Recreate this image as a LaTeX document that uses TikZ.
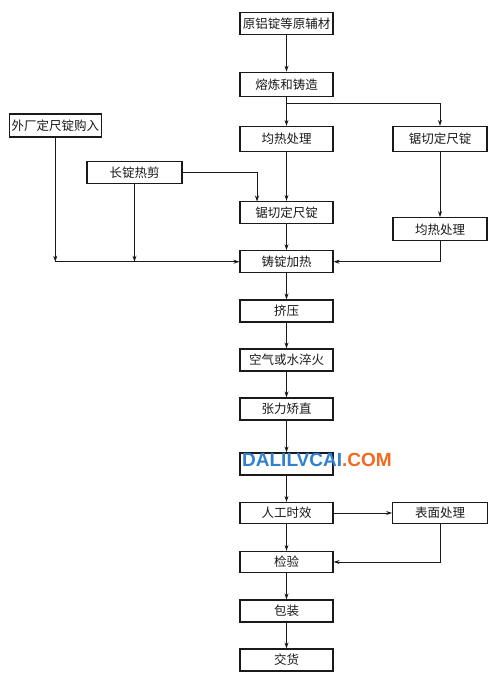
\documentclass[tikz,border=0pt]{standalone}
\usepackage{fontspec}
\setmainfont{Liberation Sans}
\newfontfamily\cjk{Noto Sans CJK SC}
\usetikzlibrary{arrows.meta}
\definecolor{wmblue}{HTML}{2F80D0}
\definecolor{wmorange}{HTML}{F26A21}
\definecolor{ink}{HTML}{1A1A1A}
\begin{document}
\begin{tikzpicture}[x=1pt,y=-1pt,
  box/.style={draw=ink, line width=1.2pt, minimum height=22pt, minimum width=93pt, inner sep=0pt,
    text=ink, font=\cjk\fontsize{12.5}{14}\selectfont},
  flow/.style={draw=ink, line width=0.75pt, -{Stealth[length=6pt,width=4pt]}}]
\useasboundingbox (0,0) rectangle (500,679);
\fill[white] (0,0) rectangle (500,679);
% main column
\node[box] (a) at (286.5,23.3) {原铝锭等原辅材};
\node[box, minimum height=24pt] (b) at (286.5,84.3) {熔炼和铸造};
\node[box, minimum height=25pt] (c) at (286.5,139) {均热处理};
\node[box] (g) at (286.5,212.5) {锯切定尺锭};
\node[box] (i) at (286.5,261.7) {铸锭加热};
\node[box] (j) at (286.5,311) {挤压};
\node[box] (k) at (286.5,360) {空气或水淬火};
\node[box] (l) at (286.5,409) {张力矫直};
\node[box] (m) at (286.5,464) {};
\node[box, minimum height=21pt] (n) at (286.5,513) {人工时效};
\node[box, minimum height=21pt] (p) at (286.5,562) {检验};
\node[box] (q) at (286.5,611) {包装};
\node[box] (r) at (286.5,660) {交货};
% right column
\node[box, minimum width=94pt, minimum height=25pt] (d) at (440,139) {锯切定尺锭};
\node[box, minimum width=94pt, minimum height=23pt] (h) at (440,229.3) {均热处理};
\node[box, minimum width=94.5pt, minimum height=21pt] (o) at (440,513) {表面处理};
% left side
\node[box, minimum width=92pt, minimum height=23pt] (e) at (55.3,125.5) {外厂定尺锭购入};
\node[box, minimum width=95pt] (f) at (134.5,172.5) {长锭热剪};
% coordinates
\coordinate (bs) at (286.5,103);
\coordinate (gin) at (257,201.5);
\coordinate (ec) at (e.south |- i.west);
% connectors
\draw[flow] (a) -- (b);
\draw[flow] (b) -- (c);
\draw[flow] (bs) -| (d.north);
\draw[flow] (c) -- (g);
\draw[flow] (d) -- (h);
\draw[flow] (f.east) -| (gin);
\draw[flow] (g) -- (i);
\draw[flow] (e.south) -- (ec);
\draw[flow] (ec) -- (i.west);
\draw[flow] (f.south) -- (f.south |- i.west);
\draw[flow] (h.south) |- (i.east);
\draw[flow] (i) -- (j);
\draw[flow] (j) -- (k);
\draw[flow] (k) -- (l);
\draw[flow] (l) -- (m);
\draw[flow] (m) -- (n);
\draw[flow] (n.east) -- (o.west);
\draw[flow] (n) -- (p);
\draw[flow] (o.south) |- (p.east);
\draw[flow] (p) -- (q);
\draw[flow] (q) -- (r);
% watermark
\node[anchor=west, inner sep=0pt, font=\fontsize{19}{20}\selectfont\bfseries] (wm) at (242,460)
  {\textcolor{wmblue}{DALILVCAI}\textcolor{wmorange}{.COM}};
\end{tikzpicture}
\end{document}
